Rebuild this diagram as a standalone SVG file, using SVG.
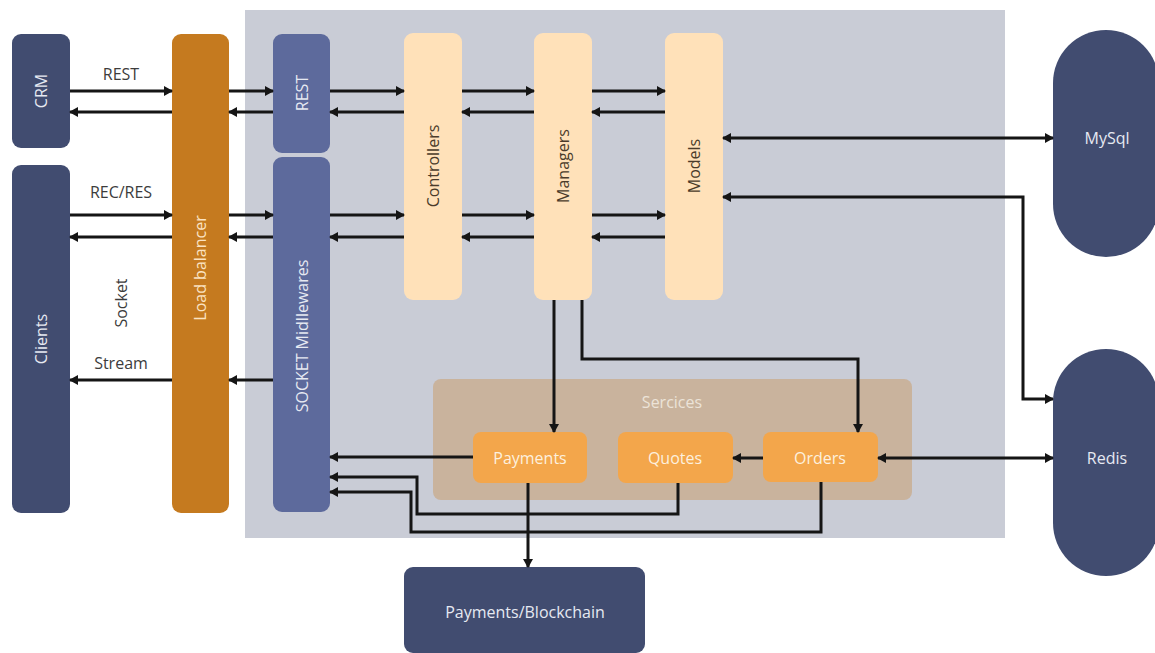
<svg xmlns="http://www.w3.org/2000/svg" width="1155" height="653" viewBox="0 0 1155 653">
<defs>
<marker id="ah" markerUnits="userSpaceOnUse" markerWidth="9" markerHeight="10" refX="8" refY="5" orient="auto-start-reverse"><path d="M0,0 L9,5 L0,10 z" fill="#151515"/></marker>
<style>
.t{font-family:"Open Sans","Liberation Sans",sans-serif;font-size:16px;text-anchor:middle;dominant-baseline:central}
.w{fill:#e6e9f2}
.d{fill:#4a3b2a}
.g{fill:#3c3c3c}
.c{fill:none;stroke:#151515;stroke-width:3}
.a{marker-end:url(#ah)}
.b{marker-start:url(#ah);marker-end:url(#ah)}
.navy{fill:#414c70}
.slate{fill:#5d6a9c}
.peach{fill:#ffe1b9}
.org{fill:#f3a64b}
</style>
</defs>
<rect width="1155" height="653" fill="#ffffff"/>
<rect id="panel" x="245" y="10" width="760" height="528" fill="#c9ccd6"/>
<g id="services">
<rect x="433" y="379" width="479" height="121" rx="8" fill="#c9b39d"/>
<text class="t" x="672" y="402" fill="#ece3d8">Sercices</text>
</g>
<g id="crm"><rect class="navy" x="12" y="34" width="58" height="114" rx="9"/><text class="t w" transform="translate(41,91) rotate(-90)">CRM</text></g>
<g id="clients"><rect class="navy" x="12" y="165" width="58" height="348" rx="9"/><text class="t w" transform="translate(41,339) rotate(-90)">Clients</text></g>
<g id="lb"><rect x="172" y="34" width="57" height="479" rx="9" fill="#c57a1f"/><text class="t" fill="#fbe3c2" transform="translate(200,268) rotate(-90)">Load balancer</text></g>
<g id="rest"><rect class="slate" x="273" y="34" width="57" height="119" rx="9"/><text class="t w" transform="translate(302,93) rotate(-90)">REST</text></g>
<g id="socket"><rect class="slate" x="273" y="157" width="57" height="355" rx="9"/><text class="t w" transform="translate(302,336) rotate(-90)">SOCKET Midllewares</text></g>
<g id="controllers"><rect class="peach" x="404" y="33" width="58" height="267" rx="9"/><text class="t d" transform="translate(433,166) rotate(-90)">Controllers</text></g>
<g id="managers"><rect class="peach" x="534" y="33" width="58" height="267" rx="9"/><text class="t d" transform="translate(563,166) rotate(-90)">Managers</text></g>
<g id="models"><rect class="peach" x="665" y="33" width="58" height="267" rx="9"/><text class="t d" transform="translate(694,166) rotate(-90)">Models</text></g>
<g id="mysql"><rect class="navy" x="1053" y="30" width="106" height="227" rx="53"/><text class="t w" x="1107" y="138">MySql</text></g>
<g id="redis"><rect class="navy" x="1053" y="349" width="106" height="227" rx="53"/><text class="t w" x="1107" y="458">Redis</text></g>
<g id="payments"><rect class="org" x="473" y="432" width="114" height="51" rx="8"/><text class="t" fill="#fdf0de" x="530" y="458">Payments</text></g>
<g id="quotes"><rect class="org" x="618" y="432" width="115" height="51" rx="8"/><text class="t" fill="#fdf0de" x="675" y="458">Quotes</text></g>
<g id="orders"><rect class="org" x="763" y="432" width="115" height="50" rx="8"/><text class="t" fill="#fdf0de" x="820" y="458">Orders</text></g>
<g id="blockchain"><rect class="navy" x="404" y="567" width="241" height="86" rx="9"/><text class="t w" x="525" y="612">Payments/Blockchain</text></g>
<g id="labels">
<text class="t g" x="121" y="74">REST</text>
<text class="t g" x="121" y="192">REC/RES</text>
<text class="t g" transform="translate(121,303) rotate(-90)">Socket</text>
<text class="t g" x="121" y="363">Stream</text>
</g>
<g id="connectors">
<path class="c a" d="M70,91 H172"/>
<path class="c a" d="M172,112 H70"/>
<path class="c a" d="M229,91 H273"/>
<path class="c a" d="M273,112 H229"/>
<path class="c a" d="M330,91 H404"/>
<path class="c a" d="M404,112 H330"/>
<path class="c a" d="M462,91 H534"/>
<path class="c a" d="M534,112 H462"/>
<path class="c a" d="M592,91 H665"/>
<path class="c a" d="M665,112 H592"/>
<path class="c a" d="M70,215 H172"/>
<path class="c a" d="M172,237 H70"/>
<path class="c a" d="M229,215 H273"/>
<path class="c a" d="M273,237 H229"/>
<path class="c a" d="M330,215 H404"/>
<path class="c a" d="M404,237 H330"/>
<path class="c a" d="M462,215 H534"/>
<path class="c a" d="M534,237 H462"/>
<path class="c a" d="M592,215 H665"/>
<path class="c a" d="M665,237 H592"/>
<path class="c a" d="M172,380 H70"/>
<path class="c a" d="M273,380 H229"/>
<path class="c b" d="M723,138 H1053"/>
<path class="c b" d="M723,197 H1023 V399 H1053"/>
<path class="c b" d="M878,458 H1053"/>
<path class="c a" d="M763,458 H733"/>
<path class="c a" d="M554,300 V432"/>
<path class="c a" d="M582,300 V359 H858 V432"/>
<path class="c a" d="M473,457 H330"/>
<path class="c a" d="M678,483 V514 H417 V477 H330"/>
<path class="c a" d="M821,482 V532 H411 V492 H330"/>
<path class="c a" d="M528,483 V567"/>
</g>
</svg>
